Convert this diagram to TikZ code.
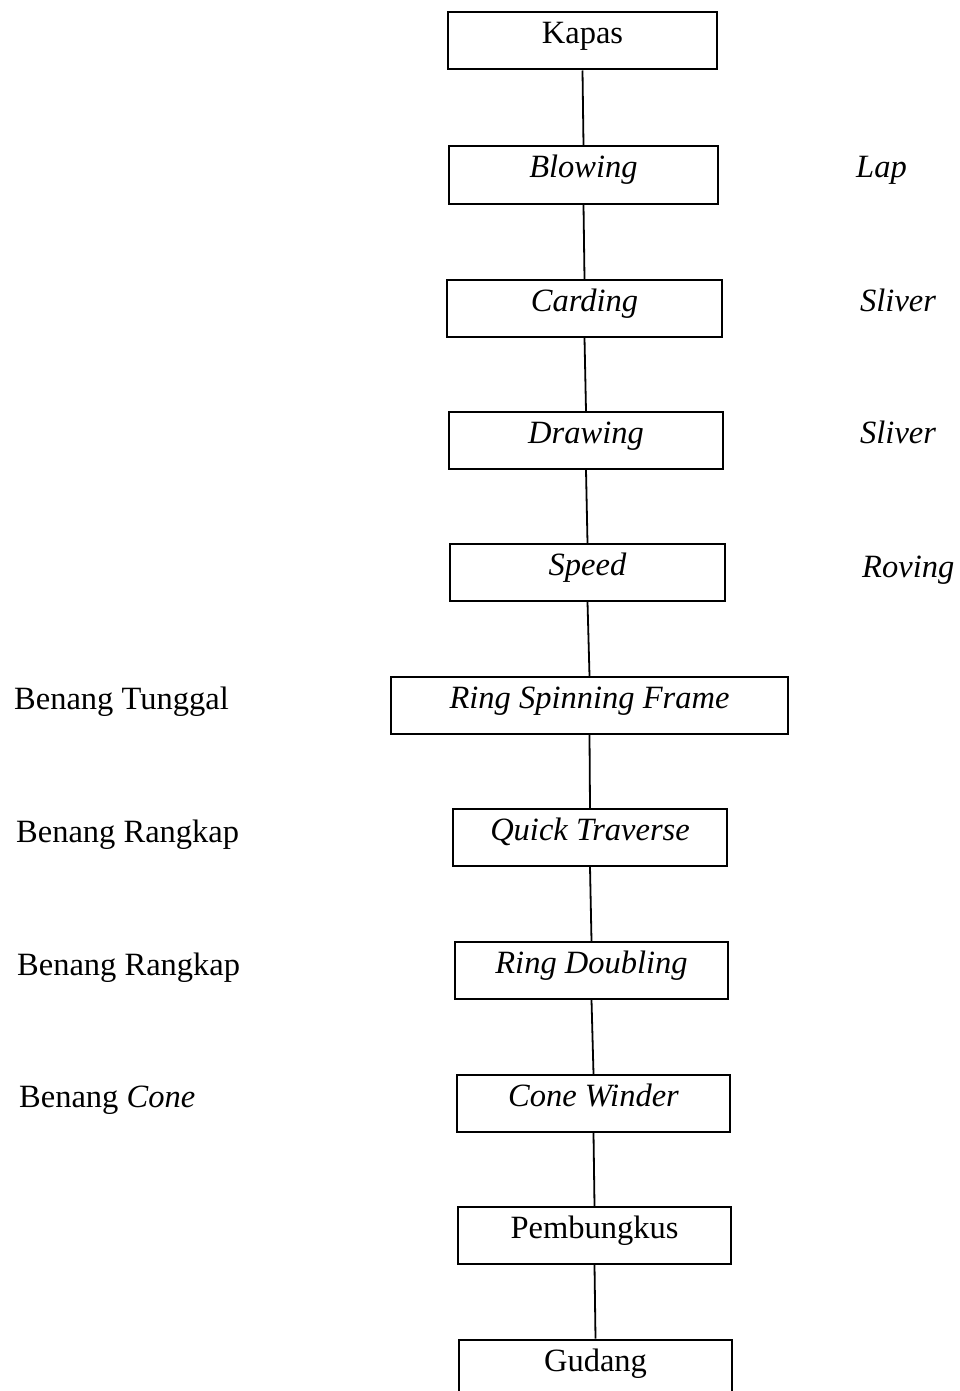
\documentclass[tikz,border=0pt]{standalone}
\usepackage{fontspec}
\setmainfont{Liberation Serif}
\begin{document}
\begin{tikzpicture}[x=1pt,y=-1pt,
  every node/.style={font=\fontsize{32.5}{38}\selectfont},
  stepbox/.style={draw,line width=2pt,rectangle,inner sep=0pt,
    text height=22pt,text depth=16pt,minimum height=57pt},
  sidelabel/.style={anchor=base west,inner sep=0pt},
  link/.style={line width=1.8pt}]
\useasboundingbox[fill=white] (0,0) rectangle (960,1391);
% process boxes: centre x, centre y, width
\node[stepbox,minimum width=269pt] (kapas) at (582.5,41) {Kapas};
\node[stepbox,minimum width=269pt] (blowing) at (583.5,175) {\itshape Blowing};
\node[stepbox,minimum width=275pt] (carding) at (584.5,308.5) {\itshape Carding};
\node[stepbox,minimum width=274pt] (drawing) at (586,440.5) {\itshape Drawing};
\node[stepbox,minimum width=275pt] (speed) at (587.5,572.5) {\itshape Speed};
\node[stepbox,minimum width=397pt] (rsf) at (589.5,705.5) {\itshape Ring Spinning Frame};
\node[stepbox,minimum width=274pt] (qt) at (590,837.5) {\itshape Quick Traverse};
\node[stepbox,minimum width=273pt] (rd) at (591.5,970.5) {\itshape Ring Doubling};
\node[stepbox,minimum width=273pt] (cw) at (593.5,1103.5) {\itshape Cone Winder};
\node[stepbox,minimum width=273pt] (pemb) at (594.5,1235.5) {Pembungkus};
\node[stepbox,minimum width=273pt] (gudang) at (595.5,1368) {Gudang};
% connectors
\draw[link] (kapas.south) -- (blowing.north);
\draw[link] (blowing.south) -- (carding.north);
\draw[link] (carding.south) -- (drawing.north);
\draw[link] (drawing.south) -- (speed.north);
\draw[link] (speed.south) -- (rsf.north);
\draw[link] (rsf.south) -- (qt.north);
\draw[link] (qt.south) -- (rd.north);
\draw[link] (rd.south) -- (cw.north);
\draw[link] (cw.south) -- (pemb.north);
\draw[link] (pemb.south) -- (gudang.north);
% products of each stage
\node[sidelabel] (lap) at (856,178) {\itshape Lap};
\node[sidelabel] (sliver1) at (860,311) {\itshape Sliver};
\node[sidelabel] (sliver2) at (860,443) {\itshape Sliver};
\node[sidelabel] (roving) at (862,577) {\itshape Roving};
\node[sidelabel] (tunggal) at (14,709) {Benang Tunggal};
\node[sidelabel] (rangkap1) at (16,842) {Benang Rangkap};
\node[sidelabel] (rangkap2) at (17,975) {Benang Rangkap};
\node[sidelabel] (cone) at (19,1107) {Benang \textit{Cone}};
\end{tikzpicture}
\end{document}
